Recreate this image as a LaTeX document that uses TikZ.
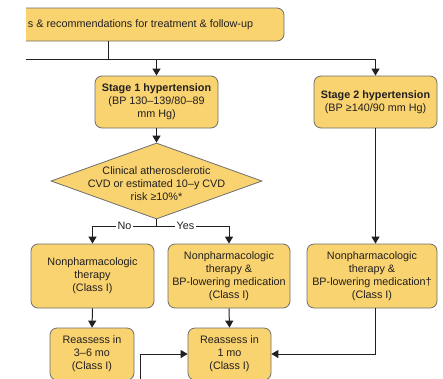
\documentclass[tikz,border=0pt]{standalone}
\usepackage{fontspec}
\setmainfont{Liberation Sans}
\usepackage{tikz}
\usetikzlibrary{arrows.meta, shapes.geometric}

\definecolor{boxfill}{HTML}{F8D36F}
\definecolor{boxline}{HTML}{6E6E6E}
\definecolor{flowink}{HTML}{231F20}

\begin{document}
\begin{tikzpicture}[x=1pt, y=-1pt,
    txt/.style={font=\fontsize{10.8}{13}\selectfont, text=flowink},
    stagebox/.style={txt, draw=boxline, fill=boxfill, line width=0.8pt,
      rounded corners=7pt, align=center, inner sep=0pt},
    decision/.style={draw=boxline, fill=boxfill, line width=0.8pt,
      diamond, inner sep=0pt},
    flowline/.style={draw=flowink, line width=1pt},
    flowarrow/.style={flowline, -{Triangle[width=8pt,length=7pt]}}]
        \useasboundingbox (0,0) rectangle (443,378);
        \clip (26,0) rectangle (443,378);                    % page is cut at the left
        % Boxes
        \node[stagebox, minimum width=287pt, minimum height=33pt] (recs) at (140.5,24.5)
          {s \& recommendations for treatment \& follow-up};
        \node[stagebox, minimum width=123pt, minimum height=52pt] (stage1) at (156.5,102)
          {\textbf{Stage 1 hypertension}\\(BP 130–139/80–89\\mm Hg)};
        \node[stagebox, minimum width=123pt, minimum height=52pt] (stage2) at (375.5,102)
          {\textbf{Stage 2 hypertension}\\(BP ≥140/90 mm Hg)};
        \node[decision, minimum width=211pt, minimum height=76pt, aspect=2.78] (risk) at (156.5,181) {};
        \node[txt, align=center] (risktext) at (156.5,184)
          {Clinical atherosclerotic\\CVD or estimated 10–y CVD\\risk ≥10\%*};
        \node[stagebox, minimum width=123pt, minimum height=64pt] (np1) at (92.5,276)
          {Nonpharmacologic\\therapy\\(Class I)};
        \node[stagebox, minimum width=122pt, minimum height=64pt] (np2) at (229,276)
          {Nonpharmacologic\\therapy \&\\BP-lowering medication\\(Class I)};
        \node[stagebox, minimum width=130pt, minimum height=64pt] (np3) at (372,276)
          {Nonpharmacologic\\therapy \&\\BP-lowering medication†\\(Class I)};
        \node[stagebox, minimum width=84pt, minimum height=52pt] (r1) at (92,354)
          {Reassess in\\3–6 mo\\(Class I)};
        \node[stagebox, minimum width=83pt, minimum height=52pt] (r2) at (229.5,354)
          {Reassess in\\1 mo\\(Class I)};
        % Junctions
        \coordinate (hub) at (108,59);
        \coordinate (leftend) at (20,59);
        \coordinate (split) at (156.5,226);
        \coordinate (fromlow) at (140,385);
        % Connectors
        \draw[flowline] (recs.south -| hub) -- (hub);
        \draw[flowline] (leftend) -- (hub);
        \draw[flowarrow] (hub) -| (stage1.north);
        \draw[flowarrow] (hub) -| (stage2.north);
        \draw[flowarrow] (stage1.south) -- (risk.north);
        \draw[flowline] (risk.south) -- (split);
        \draw[flowarrow] (split) -| node[txt, pos=0.25, fill=white, inner sep=1.5pt] (nolbl) {No} (np1.north);
        \draw[flowarrow] (split) -| node[txt, pos=0.2, fill=white, inner sep=1.5pt] (yeslbl) {Yes} (np2.north);
        \draw[flowarrow] (stage2.south) -- (stage2.south |- np3.north);
        \draw[flowarrow] (np1.south) -- (r1.north);
        \draw[flowarrow] (np2.south) -- (r2.north);
        \draw[flowarrow] (np3.south -| stage2.south) |- (r2.east);
        \draw[flowarrow] (fromlow) |- (r2.west);
      \end{tikzpicture}
\end{document}
